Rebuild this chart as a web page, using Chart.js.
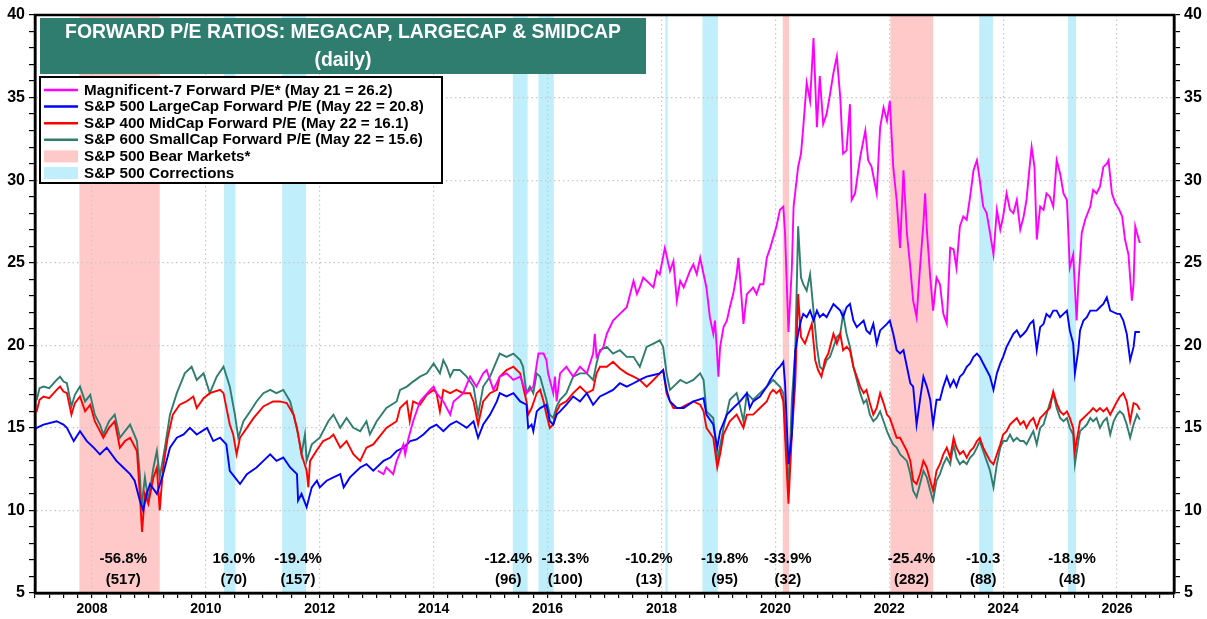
<!DOCTYPE html>
<html>
<head>
<meta charset="utf-8">
<script src="https://cdn.jsdelivr.net/npm/chart.js@4.4.1/dist/chart.umd.min.js"></script>
<style>
  html, body { margin: 0; padding: 0; background: #fff; }
  #chart { display: block; }
</style>
</head>
<body>
<canvas id="chart" width="1207" height="619"></canvas>
<script>
// Magnificent-7 forward P/E
const megaDates = [
  2013.02, 2013.12, 2013.17, 2013.29, 2013.35, 2013.47, 2013.50, 2013.56, 2013.64, 2013.76, 2013.94,
  2014.00, 2014.05, 2014.17, 2014.29, 2014.35, 2014.52, 2014.64, 2014.75, 2014.87, 2014.93,
  2015.05, 2015.16, 2015.28, 2015.40, 2015.52, 2015.63, 2015.75, 2015.84, 2015.93, 2015.98,
  2016.01, 2016.10, 2016.13, 2016.16, 2016.22, 2016.33, 2016.45, 2016.57, 2016.69, 2016.80, 2016.83, 2016.86, 2016.98,
  2017.04, 2017.15, 2017.27, 2017.39, 2017.45, 2017.51, 2017.57, 2017.62, 2017.68, 2017.74, 2017.86, 2017.92, 2017.97,
  2018.06, 2018.15, 2018.21, 2018.27, 2018.33, 2018.39, 2018.50, 2018.56, 2018.62, 2018.68, 2018.74, 2018.79, 2018.85, 2018.91, 2018.94, 2018.97,
  2019.00, 2019.03, 2019.09, 2019.15, 2019.20, 2019.26, 2019.32, 2019.35, 2019.38, 2019.44, 2019.50, 2019.61, 2019.67, 2019.73, 2019.79, 2019.85, 2019.91,
  2020.02, 2020.08, 2020.14, 2020.17, 2020.23, 2020.29, 2020.32, 2020.40, 2020.45, 2020.49, 2020.55, 2020.61, 2020.67, 2020.73, 2020.78, 2020.84, 2020.90, 2020.96,
  2021.02, 2021.08, 2021.14, 2021.17, 2021.19, 2021.25, 2021.31, 2021.34, 2021.40, 2021.49, 2021.58, 2021.63, 2021.69, 2021.78, 2021.84, 2021.90, 2021.96,
  2022.01, 2022.07, 2022.13, 2022.19, 2022.25, 2022.31, 2022.37, 2022.42, 2022.48, 2022.54, 2022.60, 2022.63, 2022.66, 2022.72, 2022.77, 2022.83, 2022.89, 2022.95,
  2023.01, 2023.07, 2023.13, 2023.18, 2023.24, 2023.30, 2023.36, 2023.42, 2023.48, 2023.54, 2023.59, 2023.65, 2023.71, 2023.77, 2023.83, 2023.89, 2023.95,
  2024.00, 2024.06, 2024.12, 2024.18, 2024.24, 2024.30, 2024.36, 2024.41, 2024.47, 2024.50, 2024.55, 2024.59, 2024.65, 2024.71, 2024.76, 2024.82, 2024.88, 2024.94,
  2025.00, 2025.06, 2025.12, 2025.17, 2025.23, 2025.29, 2025.32, 2025.38, 2025.44, 2025.53, 2025.58, 2025.64, 2025.70, 2025.76, 2025.82, 2025.85, 2025.91, 2025.97,
  2026.04, 2026.09, 2026.14, 2026.20, 2026.26, 2026.29, 2026.32, 2026.35, 2026.40
];
const megaPE = [
  12.4, 12.2, 12.6, 12.2, 13.0, 14.0, 13.4, 14.4, 15.4, 16.6, 17.3,
  17.5, 17.1, 16.6, 15.8, 16.6, 17.1, 18.1, 17.5, 18.3, 18.5,
  17.3, 18.1, 18.3, 17.9, 18.1, 17.1, 17.5, 19.5, 19.5, 19.1,
  18.3, 17.1, 18.1, 16.6, 18.3, 18.7, 18.1, 18.7, 18.3, 19.5, 20.7, 19.3, 19.9,
  20.7, 21.5, 21.9, 22.3, 23.1, 23.9, 23.1, 23.5, 24.1, 23.9, 23.5, 24.5, 24.3,
  25.9, 24.5, 25.1, 22.7, 23.9, 23.5, 24.5, 24.9, 24.3, 25.3, 24.3, 23.5, 21.7, 20.7, 21.5, 19.9,
  18.1, 19.9, 21.1, 21.5, 22.3, 23.1, 24.3, 25.3, 24.1, 21.3, 23.1, 23.5, 23.1, 23.7, 23.7, 25.3, 25.9,
  27.2, 28.2, 28.4, 26.8, 20.8, 24.7, 28.4, 30.8, 31.6, 33.2, 35.9, 34.8, 38.6, 33.2, 36.3, 33.4, 34.0, 35.2,
  36.5, 37.5, 35.0, 32.8, 31.6, 31.8, 34.6, 28.8, 29.2, 31.4, 33.0, 31.2, 30.8, 29.2, 33.2, 34.4, 33.6,
  34.8, 30.8, 28.8, 25.9, 30.6, 26.8, 24.7, 22.7, 21.7, 24.7, 27.4, 29.2, 27.0, 24.1, 22.1, 24.1, 23.7, 21.9,
  21.3, 25.9, 25.8, 24.7, 27.2, 27.8, 27.6, 29.0, 30.6, 31.2, 30.0, 28.4, 28.0, 26.8, 25.5, 28.2, 27.0,
  27.8, 29.2, 28.2, 28.0, 28.8, 27.0, 27.8, 28.8, 31.0, 32.0, 30.8, 26.4, 28.4, 28.2, 29.2, 29.0, 28.4, 31.2,
  30.4, 29.2, 28.8, 24.7, 25.5, 21.5, 23.7, 26.8, 27.6, 28.4, 29.4, 29.2, 29.6, 30.8, 31.0, 31.2, 29.2, 28.6,
  28.2, 27.8, 26.4, 25.5, 22.7, 23.7, 27.2, 26.8, 26.2
];

// S&P 500 LargeCap forward P/E
const largeDates = [
  2007.00, 2007.03, 2007.15, 2007.38, 2007.50, 2007.56, 2007.68, 2007.79, 2007.91,
  2008.03, 2008.14, 2008.26, 2008.43, 2008.55, 2008.67, 2008.75, 2008.84, 2008.90, 2008.96,
  2009.02, 2009.14, 2009.25, 2009.37, 2009.49, 2009.61, 2009.72, 2009.84,
  2010.02, 2010.13, 2010.25, 2010.36, 2010.42, 2010.51, 2010.60, 2010.72, 2010.89,
  2011.01, 2011.13, 2011.24, 2011.36, 2011.48, 2011.60, 2011.62, 2011.68, 2011.77, 2011.86, 2011.95,
  2012.00, 2012.12, 2012.24, 2012.36, 2012.42, 2012.53, 2012.71, 2012.82, 2012.94,
  2013.12, 2013.24, 2013.35, 2013.47, 2013.59, 2013.70, 2013.82, 2013.94,
  2014.05, 2014.17, 2014.29, 2014.40, 2014.58, 2014.70, 2014.78, 2014.87, 2014.99,
  2015.11, 2015.16, 2015.28, 2015.40, 2015.52, 2015.63, 2015.66, 2015.72, 2015.75, 2015.81, 2015.87, 2015.98,
  2016.04, 2016.10, 2016.16, 2016.22, 2016.33, 2016.45, 2016.57, 2016.69, 2016.80, 2016.92,
  2017.04, 2017.15, 2017.27, 2017.39, 2017.51, 2017.62, 2017.74, 2017.86, 2017.97,
  2018.03, 2018.09, 2018.15, 2018.27, 2018.39, 2018.56, 2018.74, 2018.79, 2018.91, 2018.98,
  2019.03, 2019.15, 2019.26, 2019.38, 2019.50, 2019.55, 2019.61, 2019.73, 2019.85, 2019.91,
  2020.02, 2020.08, 2020.14, 2020.17, 2020.23, 2020.29, 2020.35, 2020.40, 2020.45, 2020.49, 2020.55, 2020.61, 2020.67, 2020.73, 2020.78, 2020.84, 2020.90, 2020.96,
  2021.02, 2021.08, 2021.14, 2021.19, 2021.25, 2021.31, 2021.37, 2021.43, 2021.49, 2021.55, 2021.60, 2021.66, 2021.72, 2021.78, 2021.84, 2021.90, 2021.96,
  2022.01, 2022.07, 2022.13, 2022.19, 2022.25, 2022.31, 2022.37, 2022.42, 2022.48, 2022.54, 2022.60, 2022.66, 2022.72, 2022.77, 2022.83, 2022.89, 2022.95,
  2023.01, 2023.07, 2023.13, 2023.18, 2023.24, 2023.30, 2023.36, 2023.42, 2023.48, 2023.54, 2023.59, 2023.65, 2023.71, 2023.77, 2023.83, 2023.89, 2023.95,
  2024.00, 2024.06, 2024.12, 2024.18, 2024.24, 2024.30, 2024.36, 2024.41, 2024.47, 2024.53, 2024.59, 2024.65, 2024.71, 2024.76, 2024.82, 2024.88, 2024.94,
  2025.00, 2025.06, 2025.12, 2025.17, 2025.23, 2025.26, 2025.32, 2025.35, 2025.41, 2025.47, 2025.53, 2025.58, 2025.64, 2025.70, 2025.76, 2025.82, 2025.88, 2025.94,
  2026.00, 2026.05, 2026.11, 2026.17, 2026.23, 2026.29, 2026.32, 2026.40
];
const largePE = [
  14.9, 15.0, 15.2, 15.4, 15.2, 15.0, 14.2, 14.8, 14.2,
  13.8, 13.4, 13.8, 13.0, 12.6, 12.2, 11.8, 10.6, 10.0, 11.0,
  11.6, 11.0, 12.2, 13.8, 14.4, 14.6, 15.0, 14.6,
  15.0, 14.2, 14.4, 14.0, 12.4, 12.0, 11.6, 12.2, 12.6,
  13.0, 13.4, 13.0, 13.2, 12.6, 12.2, 10.6, 11.0, 10.2, 11.4, 11.8,
  11.4, 11.8, 12.0, 12.2, 11.4, 12.0, 12.6, 12.8, 12.4,
  13.0, 13.2, 13.6, 13.8, 14.2, 14.3, 14.6, 15.0,
  15.2, 14.8, 15.2, 15.4, 15.0, 15.4, 14.4, 15.2, 15.8,
  16.6, 17.1, 16.9, 17.1, 16.6, 16.4, 15.0, 15.2, 14.8, 16.0, 16.2, 16.4,
  15.4, 15.2, 15.8, 16.0, 16.4, 16.9, 16.6, 17.1, 16.4, 16.9,
  17.1, 17.3, 17.7, 17.5, 17.7, 17.9, 18.1, 18.2, 18.3,
  18.5, 17.3, 16.6, 16.2, 16.2, 16.6, 16.8, 15.8, 15.2, 13.8,
  14.8, 15.8, 16.2, 16.6, 17.1, 16.2, 16.6, 16.9, 17.5, 17.9,
  18.5, 18.7, 19.0, 17.7, 12.8, 14.6, 19.7, 20.7, 21.5, 21.9, 21.7, 22.1, 21.5, 22.1, 21.7, 21.9, 21.7, 22.1,
  22.5, 22.3, 22.1, 21.7, 22.3, 22.5, 21.5, 21.1, 21.3, 21.5, 20.9, 20.7, 21.3, 20.1, 20.9, 21.1, 21.3,
  21.5, 20.7, 19.7, 19.5, 19.7, 18.7, 17.7, 17.5, 15.2, 16.7, 18.1, 17.5, 16.7, 15.2, 16.7, 16.7, 17.5,
  18.1, 17.5, 17.9, 17.5, 18.1, 18.3, 18.7, 18.9, 19.3, 19.5, 19.3, 18.9, 18.5, 18.1, 17.3, 18.3, 18.9,
  19.3, 19.9, 20.3, 20.7, 20.9, 20.5, 20.7, 20.9, 21.3, 21.5, 19.7, 21.1, 21.3, 21.9, 21.7, 22.1, 22.1,
  21.7, 21.9, 22.1, 20.9, 20.1, 18.3, 19.7, 20.9, 21.5, 21.7, 22.1, 22.1, 22.1, 22.3, 22.5, 22.9, 22.1, 22.0,
  21.9, 21.9, 21.5, 20.7, 19.1, 19.9, 20.8, 20.8
];

// S&P 400 MidCap forward P/E
const midDates = [
  2007.00, 2007.03, 2007.08, 2007.15, 2007.25, 2007.38, 2007.44, 2007.50, 2007.56, 2007.64, 2007.70, 2007.79, 2007.88, 2007.97,
  2008.05, 2008.14, 2008.20, 2008.30, 2008.40, 2008.49, 2008.58, 2008.67, 2008.79, 2008.84, 2008.88, 2008.93, 2008.99,
  2009.08, 2009.14, 2009.19, 2009.25, 2009.33, 2009.42, 2009.54, 2009.66, 2009.78, 2009.84, 2009.96,
  2010.07, 2010.25, 2010.31, 2010.42, 2010.48, 2010.54, 2010.60, 2010.72, 2010.84,
  2011.01, 2011.18, 2011.30, 2011.42, 2011.54, 2011.60, 2011.68, 2011.77, 2011.80, 2011.83, 2011.94,
  2012.06, 2012.18, 2012.24, 2012.36, 2012.47, 2012.59, 2012.71, 2012.82, 2012.94,
  2013.17, 2013.35, 2013.41, 2013.53, 2013.58, 2013.64, 2013.76, 2013.88,
  2014.00, 2014.05, 2014.11, 2014.17, 2014.29, 2014.40, 2014.52, 2014.64, 2014.70, 2014.78, 2014.87, 2014.99,
  2015.11, 2015.16, 2015.28, 2015.40, 2015.52, 2015.57, 2015.63, 2015.66, 2015.72, 2015.81, 2015.87, 2015.93, 2015.98,
  2016.04, 2016.10, 2016.16, 2016.22, 2016.33, 2016.45, 2016.57, 2016.69, 2016.80, 2016.86, 2016.92,
  2017.04, 2017.15, 2017.27, 2017.39, 2017.51, 2017.62, 2017.74, 2017.86, 2017.97,
  2018.03, 2018.09, 2018.15, 2018.21, 2018.33, 2018.44, 2018.56, 2018.68, 2018.74, 2018.79, 2018.91, 2018.98,
  2019.03, 2019.09, 2019.20, 2019.32, 2019.38, 2019.44, 2019.50, 2019.61, 2019.73, 2019.85, 2019.91, 2019.96,
  2020.02, 2020.08, 2020.14, 2020.23, 2020.29, 2020.35, 2020.40, 2020.45, 2020.52, 2020.58, 2020.64, 2020.70, 2020.75, 2020.81, 2020.87, 2020.93,
  2021.02, 2021.08, 2021.14, 2021.19, 2021.25, 2021.31, 2021.37, 2021.43, 2021.49, 2021.55, 2021.60, 2021.66, 2021.72, 2021.78, 2021.84, 2021.90, 2021.96,
  2022.01, 2022.07, 2022.13, 2022.19, 2022.25, 2022.31, 2022.37, 2022.42, 2022.48, 2022.54, 2022.60, 2022.66, 2022.72, 2022.77, 2022.83, 2022.89, 2022.95,
  2023.01, 2023.07, 2023.13, 2023.18, 2023.24, 2023.30, 2023.36, 2023.42, 2023.48, 2023.54, 2023.59, 2023.65, 2023.71, 2023.77, 2023.83, 2023.89, 2023.95,
  2024.00, 2024.06, 2024.12, 2024.18, 2024.24, 2024.30, 2024.36, 2024.41, 2024.47, 2024.53, 2024.59, 2024.65, 2024.71, 2024.76, 2024.82, 2024.88, 2024.94,
  2025.00, 2025.06, 2025.12, 2025.17, 2025.23, 2025.26, 2025.32, 2025.35, 2025.41, 2025.47, 2025.53, 2025.58, 2025.64, 2025.70, 2025.76, 2025.82, 2025.88, 2025.94,
  2026.00, 2026.05, 2026.11, 2026.17, 2026.23, 2026.29, 2026.35, 2026.40
];
const midPE = [
  15.9, 16.0, 16.7, 16.9, 16.8, 17.3, 17.5, 17.2, 17.1, 15.8, 16.5, 16.9, 16.0, 16.4,
  15.4, 14.8, 14.4, 15.0, 15.4, 13.8, 14.2, 14.4, 13.6, 11.0, 8.7, 11.0, 10.4,
  12.0, 12.6, 10.0, 12.6, 14.4, 15.8, 16.4, 16.6, 16.9, 16.2, 16.8,
  17.1, 17.3, 17.1, 15.2, 14.6, 13.4, 14.4, 15.0, 15.6,
  16.3, 16.6, 16.6, 16.5, 15.8, 15.0, 13.4, 12.4, 11.4, 13.0, 13.6,
  14.2, 14.4, 14.6, 13.8, 14.2, 13.4, 13.0, 13.8, 14.0,
  15.0, 15.4, 16.2, 16.6, 15.4, 16.6, 16.4, 17.0,
  17.3, 17.1, 16.0, 17.3, 17.1, 17.3, 17.1, 17.1, 16.6, 15.2, 16.6, 17.1,
  17.3, 18.1, 18.5, 18.7, 18.3, 17.5, 16.6, 15.8, 16.2, 17.1, 17.3, 16.6, 15.8,
  15.0, 15.2, 16.0, 16.4, 16.6, 17.1, 17.5, 17.1, 17.3, 18.3, 18.7,
  18.7, 19.0, 18.6, 18.3, 18.1, 17.9, 17.5, 17.9, 18.3,
  18.5, 17.1, 16.6, 16.2, 16.2, 16.4, 16.6, 16.4, 16.0, 15.0, 14.4, 12.6,
  13.4, 14.6, 15.4, 15.8, 15.4, 15.0, 15.8, 15.8, 16.2, 16.6, 17.1, 17.3,
  17.1, 17.3, 16.6, 10.4, 14.6, 17.7, 23.1, 20.5, 20.1, 20.7, 21.3, 19.1, 18.5, 18.1, 19.1, 19.5,
  20.7, 20.1, 20.7, 19.7, 19.9, 19.7, 18.7, 18.1, 17.5, 17.1, 17.3, 16.5, 15.8, 16.2, 17.1, 16.5, 15.8,
  15.6, 15.0, 14.4, 14.4, 14.0, 13.6, 13.0, 11.8, 11.6, 12.2, 13.0, 12.6, 11.8, 11.2, 12.4, 12.8, 13.4,
  13.8, 13.2, 14.4, 13.8, 13.4, 13.6, 13.2, 13.6, 13.8, 14.2, 14.4, 13.8, 13.4, 13.0, 12.8, 13.4, 14.0,
  14.6, 14.8, 15.2, 15.4, 15.6, 15.2, 15.4, 15.0, 15.4, 15.6, 15.0, 15.6, 15.8, 16.0, 16.2, 17.2, 16.5,
  16.0, 15.8, 16.0, 15.6, 15.0, 13.6, 14.8, 15.4, 15.6, 15.8, 16.0, 16.2, 16.0, 16.2, 16.0, 16.2, 15.8, 16.2,
  16.6, 16.9, 17.1, 16.6, 15.4, 16.5, 16.4, 16.1
];

// S&P 600 SmallCap forward P/E
const smallDates = [
  2007.00, 2007.03, 2007.08, 2007.15, 2007.25, 2007.38, 2007.44, 2007.50, 2007.56, 2007.64, 2007.70, 2007.79, 2007.88, 2007.97,
  2008.05, 2008.14, 2008.20, 2008.30, 2008.40, 2008.49, 2008.58, 2008.67, 2008.79, 2008.84, 2008.87, 2008.93, 2008.99,
  2009.08, 2009.14, 2009.19, 2009.28, 2009.37, 2009.49, 2009.63, 2009.75, 2009.84, 2009.96,
  2010.07, 2010.19, 2010.31, 2010.42, 2010.51, 2010.57, 2010.66, 2010.78, 2010.89,
  2011.01, 2011.13, 2011.24, 2011.36, 2011.48, 2011.54, 2011.62, 2011.68, 2011.74, 2011.77, 2011.86,
  2012.00, 2012.15, 2012.24, 2012.36, 2012.47, 2012.59, 2012.71, 2012.82, 2012.88,
  2013.00, 2013.17, 2013.35, 2013.41, 2013.53, 2013.64, 2013.76, 2013.88,
  2014.00, 2014.11, 2014.17, 2014.23, 2014.29, 2014.35, 2014.46, 2014.58, 2014.70, 2014.78, 2014.87, 2014.99,
  2015.16, 2015.28, 2015.40, 2015.52, 2015.57, 2015.63, 2015.69, 2015.75, 2015.81, 2015.87, 2015.98,
  2016.04, 2016.10, 2016.16, 2016.22, 2016.33, 2016.45, 2016.57, 2016.69, 2016.80, 2016.86, 2016.92,
  2017.04, 2017.15, 2017.27, 2017.39, 2017.51, 2017.62, 2017.74, 2017.86, 2017.97,
  2018.03, 2018.09, 2018.15, 2018.21, 2018.33, 2018.44, 2018.56, 2018.68, 2018.74, 2018.79, 2018.91, 2018.98,
  2019.09, 2019.20, 2019.32, 2019.38, 2019.44, 2019.50, 2019.61, 2019.73, 2019.85, 2019.96,
  2020.08, 2020.14, 2020.23, 2020.29, 2020.35, 2020.40, 2020.45, 2020.49, 2020.55, 2020.61, 2020.67, 2020.73, 2020.78, 2020.84, 2020.90, 2020.96,
  2021.02, 2021.08, 2021.14, 2021.19, 2021.25, 2021.31, 2021.37, 2021.43, 2021.49, 2021.55, 2021.60, 2021.66, 2021.72, 2021.78, 2021.84, 2021.90, 2021.96,
  2022.01, 2022.07, 2022.13, 2022.19, 2022.25, 2022.31, 2022.37, 2022.42, 2022.48, 2022.54, 2022.60, 2022.66, 2022.72, 2022.77, 2022.83, 2022.89, 2022.95,
  2023.01, 2023.07, 2023.13, 2023.18, 2023.24, 2023.30, 2023.36, 2023.42, 2023.48, 2023.54, 2023.59, 2023.65, 2023.71, 2023.77, 2023.83, 2023.89, 2023.95,
  2024.00, 2024.06, 2024.12, 2024.18, 2024.24, 2024.30, 2024.36, 2024.41, 2024.47, 2024.53, 2024.59, 2024.65, 2024.71, 2024.76, 2024.82, 2024.88, 2024.94,
  2025.00, 2025.06, 2025.12, 2025.17, 2025.23, 2025.26, 2025.32, 2025.35, 2025.41, 2025.47, 2025.53, 2025.58, 2025.64, 2025.70, 2025.76, 2025.82, 2025.88, 2025.94,
  2026.00, 2026.05, 2026.11, 2026.17, 2026.23, 2026.29, 2026.35, 2026.40
];
const smallPE = [
  16.6, 16.7, 17.4, 17.5, 17.4, 17.9, 18.1, 17.8, 17.7, 16.3, 17.0, 17.5, 16.6, 17.0,
  15.8, 15.2, 14.6, 15.4, 15.8, 14.4, 14.8, 15.2, 14.2, 12.2, 10.2, 12.0, 10.6,
  12.6, 13.6, 12.0, 13.8, 15.8, 17.1, 18.3, 18.7, 17.9, 18.3,
  17.1, 18.1, 18.7, 17.5, 15.8, 14.4, 15.4, 16.0, 16.6,
  17.1, 17.3, 17.1, 17.3, 16.6, 15.8, 14.6, 13.4, 14.6, 13.0, 14.0,
  14.4, 15.4, 15.8, 15.0, 15.6, 15.0, 14.8, 15.4, 14.6,
  15.4, 16.2, 16.6, 17.3, 17.5, 17.8, 18.1, 18.3,
  18.9, 18.3, 19.1, 18.7, 18.1, 18.5, 18.5, 18.1, 17.5, 15.8, 17.5, 18.1,
  19.5, 19.3, 19.5, 19.1, 18.7, 17.1, 17.5, 17.1, 18.3, 18.1, 16.7,
  15.8, 15.6, 16.3, 16.7, 17.1, 18.1, 18.3, 18.3, 17.9, 18.9, 19.7,
  19.9, 19.5, 19.7, 19.3, 19.3, 18.7, 19.9, 20.1, 20.3,
  19.9, 18.3, 17.3, 17.5, 17.9, 17.7, 17.9, 18.3, 17.9, 16.0, 15.6, 13.0,
  15.0, 16.7, 17.1, 16.3, 15.4, 17.1, 16.7, 17.1, 17.5, 17.9,
  17.5, 17.1, 11.2, 16.7, 19.7, 27.2, 24.1, 23.7, 23.3, 24.3, 22.1, 19.9, 18.7, 18.5, 19.1, 19.3,
  19.9, 20.5, 20.7, 21.9, 20.7, 19.9, 18.7, 17.9, 17.1, 16.5, 16.7, 15.8, 15.4, 15.6, 16.0, 15.4, 14.8,
  14.4, 14.0, 13.8, 13.4, 13.2, 13.0, 12.2, 11.2, 10.8, 11.6, 12.4, 12.0, 11.2, 10.6, 11.8, 12.2, 12.8,
  13.2, 12.8, 14.0, 13.2, 12.8, 13.0, 12.8, 13.2, 13.4, 13.8, 14.2, 13.6, 13.0, 12.4, 11.4, 12.8, 13.8,
  14.2, 14.2, 14.6, 14.2, 14.4, 14.2, 14.2, 14.0, 14.4, 14.8, 14.0, 15.0, 15.2, 15.8, 16.5, 17.1, 16.2,
  15.6, 15.4, 15.6, 15.0, 14.6, 12.8, 14.2, 14.8, 15.0, 15.2, 15.6, 15.4, 15.6, 15.0, 15.4, 15.6, 14.6, 15.4,
  15.8, 16.0, 15.8, 15.2, 14.4, 15.2, 15.8, 15.5
];

// shaded periods (decimal years)
const bearStart = [2007.78, 2020.13, 2022.02];
const bearEnd = [2009.19, 2020.24, 2022.77];
const corrStart = [2010.32, 2011.34, 2015.39, 2015.84, 2018.07, 2018.72, 2023.58, 2025.14];
const corrEnd = [2010.52, 2011.76, 2015.65, 2016.11, 2018.11, 2018.99, 2023.82, 2025.28];

// decline / duration notes under the shaded periods
const noteX = [2008.55, 2010.49, 2011.62, 2015.31, 2016.31, 2017.78, 2019.11, 2020.22, 2022.39, 2023.65, 2025.21];
const notePct = ['-56.8%', '16.0%', '-19.4%', '-12.4%', '-13.3%', '-10.2%', '-19.8%', '-33.9%', '-25.4%', '-10.3', '-18.9%'];
const noteDays = ['(517)', '(70)', '(157)', '(96)', '(100)', '(13)', '(95)', '(32)', '(282)', '(88)', '(48)'];

const seriesLabels = [
  'Magnificent-7 Forward P/E* (May 21 = 26.2)',
  'S&P 500 LargeCap Forward P/E (May 22 = 20.8)',
  'S&P 400 MidCap Forward P/E (May 22 = 16.1)',
  'S&P 600 SmallCap Forward P/E (May 22 = 15.6)'
];
const bandLabels = ['S&P 500 Bear Markets*', 'S&P 500 Corrections'];
const titleLines = ['FORWARD P/E RATIOS: MEGACAP, LARGECAP & SMIDCAP', '(daily)'];

const xTickYears = [2008, 2010, 2012, 2014, 2016, 2018, 2020, 2022, 2024, 2026];
const yTickValues = [5, 10, 15, 20, 25, 30, 35, 40];

const colors = ['#FF00FF', '#0000FF', '#FF0000', '#2E7D6E'];
const bearColor = '#FFC9C9';
const corrColor = '#C0EEFA';
const titleColor = '#2E7D6F';
const gridColor = '#C8C8C8';
const FONT = '"Liberation Sans", Arial, sans-serif';

function toPoints(dates, vals) {
  const n = Math.min(dates.length, vals.length);
  const pts = [];
  for (let i = 0; i < n; i++) pts.push({ x: dates[i], y: vals[i] });
  return pts;
}

function isMajorYear(v) {
  return xTickYears.some(y => Math.abs(y - v) < 1e-6);
}
function isMajorY(v) {
  return yTickValues.some(y => Math.abs(y - v) < 1e-6);
}

// fit a font to a target width
function fitFont(ctx, text, width, weight) {
  let size = 20;
  ctx.font = weight + ' ' + size + 'px ' + FONT;
  const w = ctx.measureText(text).width;
  size = size * width / w;
  return size;
}

const decorPlugin = {
  id: 'decor',
  beforeDraw(chart) {
    const { ctx, chartArea: a, scales: { x } } = chart;
    ctx.save();
    const band = (s, e, c) => {
      const x1 = Math.max(a.left, x.getPixelForValue(s));
      const x2 = Math.min(a.right, x.getPixelForValue(e));
      ctx.fillStyle = c;
      ctx.fillRect(x1, a.top, Math.max(1.5, x2 - x1), a.bottom - a.top);
    };
    bearStart.forEach((s, i) => band(s, bearEnd[i], bearColor));
    corrStart.forEach((s, i) => band(s, corrEnd[i], corrColor));
    ctx.restore();
  },
  afterDatasetsDraw(chart) {
    const { ctx, chartArea: a, scales: { x } } = chart;
    ctx.save();

    // frame
    ctx.strokeStyle = '#000';
    ctx.lineWidth = 2.5;
    ctx.strokeRect(a.left, a.top, a.right - a.left, a.bottom - a.top);

    // title box
    ctx.fillStyle = titleColor;
    ctx.fillRect(40, 18, 606, 56);
    ctx.fillStyle = '#fff';
    ctx.textAlign = 'center';
    ctx.textBaseline = 'middle';
    const tSize = fitFont(ctx, titleLines[0], 556, 'bold');
    ctx.font = 'bold ' + tSize.toFixed(1) + 'px ' + FONT;
    ctx.fillText(titleLines[0], 343, 33);
    ctx.fillText(titleLines[1], 343, 61);

    // legend
    ctx.fillStyle = '#fff';
    ctx.fillRect(40, 77, 402, 106);
    ctx.strokeStyle = '#000';
    ctx.lineWidth = 2;
    ctx.strokeRect(40, 77, 402, 106);
    const lSize = fitFont(ctx, seriesLabels[0], 309, 'bold');
    ctx.font = 'bold ' + lSize.toFixed(1) + 'px ' + FONT;
    ctx.textAlign = 'left';
    ctx.textBaseline = 'middle';
    const rowY = i => 90 + i * 16.6;
    seriesLabels.forEach((lab, i) => {
      ctx.strokeStyle = colors[i];
      ctx.lineWidth = 2.5;
      ctx.beginPath();
      ctx.moveTo(44, rowY(i));
      ctx.lineTo(78, rowY(i));
      ctx.stroke();
      ctx.fillStyle = '#000';
      ctx.fillText(lab, 84, rowY(i) + 0.5);
    });
    [bearColor, corrColor].forEach((c, j) => {
      const y = rowY(4 + j);
      ctx.fillStyle = c;
      ctx.fillRect(44, y - 6, 34, 12);
      ctx.fillStyle = '#000';
      ctx.fillText(bandLabels[j], 84, y + 0.5);
    });

    // notes
    ctx.font = 'bold 15px ' + FONT;
    ctx.textAlign = 'center';
    ctx.fillStyle = '#000';
    noteX.forEach((v, i) => {
      const px = x.getPixelForValue(v);
      ctx.fillText(notePct[i], px, 559);
      ctx.fillText(noteDays[i], px, 580);
    });
    ctx.restore();
  }
};

const tickFontX = { family: FONT, size: 14, weight: 'bold' };
const tickFontY = { family: FONT, size: 16, weight: 'bold' };

function yAxis(position, width, drawArea) {
  return {
    type: 'linear',
    position: position,
    min: 5,
    max: 40,
    ticks: {
      stepSize: 1,
      autoSkip: false,
      color: '#000',
      font: tickFontY,
      padding: 4,
      callback: v => isMajorY(v) ? String(v) : ''
    },
    grid: {
      drawOnChartArea: drawArea,
      color: c => (c.tick && isMajorY(c.tick.value) && c.tick.value !== 5 && c.tick.value !== 40) ? gridColor : 'rgba(0,0,0,0)',
      lineWidth: 1.2,
      tickColor: '#000',
      tickLength: 6,
      tickWidth: 1.2
    },
    border: { display: true, color: '#000', width: 2.5, dash: [1.5, 3] },
    afterFit: s => { s.width = width; }
  };
}

const ctx = document.getElementById('chart').getContext('2d');
new Chart(ctx, {
  type: 'line',
  data: {
    datasets: [
      { label: seriesLabels[0], data: toPoints(megaDates, megaPE), borderColor: colors[0] },
      { label: seriesLabels[1], data: toPoints(largeDates, largePE), borderColor: colors[1] },
      { label: seriesLabels[2], data: toPoints(midDates, midPE), borderColor: colors[2] },
      { label: seriesLabels[3], data: toPoints(smallDates, smallPE), borderColor: colors[3] }
    ].map(d => Object.assign(d, {
      borderWidth: 1.9,
      pointRadius: 0,
      tension: 0,
      fill: false,
      yAxisID: 'y'
    }))
  },
  options: {
    responsive: false,
    animation: false,
    devicePixelRatio: 1,
    layout: { padding: { top: 15, left: 0, right: 0, bottom: 0 } },
    plugins: {
      legend: { display: false },
      tooltip: { enabled: false }
    },
    scales: {
      x: {
        type: 'linear',
        min: 2007,
        max: 2027,
        ticks: {
          stepSize: 0.25,
          autoSkip: false,
          maxRotation: 0,
          color: '#000',
          font: tickFontX,
          padding: 3,
          callback: v => isMajorYear(v) ? String(Math.round(v)) : ''
        },
        grid: {
          color: c => (c.tick && isMajorYear(c.tick.value)) ? gridColor : 'rgba(0,0,0,0)',
          lineWidth: 1.2,
          tickColor: '#000',
          tickLength: 5,
          tickWidth: 1.2
        },
        border: { display: true, color: '#000', width: 2.5, dash: [1.5, 3] },
        afterFit: s => { s.height = 26; }
      },
      y: yAxis('left', 35, true),
      y2: yAxis('right', 33, false)
    }
  },
  plugins: [decorPlugin]
});
</script>
</body>
</html>
